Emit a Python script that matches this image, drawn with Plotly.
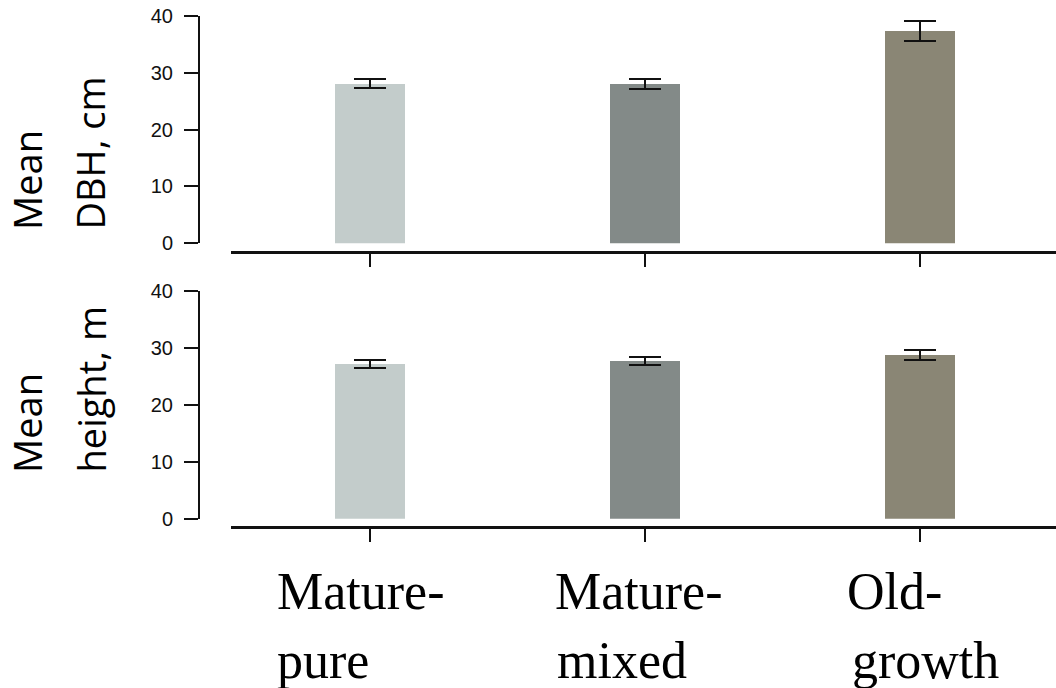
import plotly.graph_objects as go

# ---- data ----
categories = ["Mature-pure", "Mature-mixed", "Old-growth"]
label_lines = [("Mature-", "pure"), ("Mature-", "mixed"), ("Old-", "growth")]
dbh_mean = [28.1, 28.05, 37.3]
dbh_err = [0.8, 0.85, 1.8]
height_mean = [27.2, 27.7, 28.7]
height_err = [0.7, 0.65, 0.85]
bar_colors = ["#C3CCCB", "#838A88", "#8A8675"]
y_ticks = [0, 10, 20, 30, 40]
y_titles = [("Mean", "DBH, cm"), ("Mean", "height, m")]

W, H = 1056, 688
def px(x):
    return x / W
def py(y):
    return 1 - y / H

xs = list(range(len(categories)))

fig = go.Figure()
for i, (means, errs) in enumerate([(dbh_mean, dbh_err), (height_mean, height_err)]):
    fig.add_trace(go.Bar(
        x=xs, y=means,
        width=0.2545,
        marker=dict(color=bar_colors, line=dict(width=0)),
        error_y=dict(type="data", array=errs, visible=True, color="#111111",
                     thickness=2, width=16),
        xaxis="x" if i == 0 else "x2",
        yaxis="y" if i == 0 else "y2",
        showlegend=False,
        hoverinfo="skip",
    ))

xrange = [(231 - 370) / 275, (W - 370) / 275]
common_x = dict(range=xrange, showline=True, linecolor="#111111", linewidth=2.5,
                ticks="outside", ticklen=13, tickwidth=2, tickcolor="#111111",
                tickvals=xs, showticklabels=False, showgrid=False, zeroline=False,
                domain=[px(231), 1.0], anchor="free", automargin=False)
common_y = dict(range=[0, 40], tickvals=y_ticks, showline=True, linecolor="#111111",
                linewidth=2, ticks="outside", ticklen=14, tickwidth=1.5,
                tickcolor="#111111", showgrid=False, zeroline=False,
                tickfont=dict(family="Liberation Sans, Arial, sans-serif", size=20,
                              color="#111111"),
                anchor="free", position=px(199), ticklabelstandoff=7,
                automargin=False)

fig.update_layout(
    width=W, height=H, autosize=False,
    margin=dict(l=0, r=0, t=0, b=0, pad=0, autoexpand=False),
    paper_bgcolor="white", plot_bgcolor="rgba(0,0,0,0)",
    xaxis=dict(common_x, position=py(252)),
    xaxis2=dict(common_x, position=py(527)),
    yaxis=dict(common_y, domain=[py(243.3), py(15.7)]),
    yaxis2=dict(common_y, domain=[py(518.7), py(291)]),
    bargap=0,
)

annotations = []
# y-axis titles (two rotated lines each)
title_font = dict(family="Open Sans, sans-serif", size=38, color="#000000")
for (l1, l2), yend in zip(y_titles, [232, 475]):
    annotations.append(dict(text=l1, x=px(27), y=py(yend), xref="paper", yref="paper",
                            textangle=-90, xanchor="center", yanchor="bottom",
                            showarrow=False, font=title_font))
    annotations.append(dict(text=l2, x=px(90), y=py(yend), xref="paper", yref="paper",
                            textangle=-90, xanchor="center", yanchor="bottom",
                            showarrow=False, font=title_font))

# category labels (two left-aligned serif lines)
cat_font = dict(family="Liberation Serif, Times New Roman, serif", size=52, color="#000000")
left_edges = [(275, 275), (553, 555), (845, 850)]
for (a, b), (xa, xb) in zip(label_lines, left_edges):
    annotations.append(dict(text=a, x=px(xa), y=py(591), xref="paper", yref="paper",
                            xanchor="left", yanchor="middle", showarrow=False,
                            font=cat_font))
    annotations.append(dict(text=b, x=px(xb), y=py(660), xref="paper", yref="paper",
                            xanchor="left", yanchor="middle", showarrow=False,
                            font=cat_font))
fig.update_layout(annotations=annotations)

fig.write_html(
    "out.html",
    config={"displayModeBar": False},
    post_script="document.documentElement.style.margin='0';"
                "document.body.style.margin='0';"
                "document.body.style.overflow='hidden';",
)
